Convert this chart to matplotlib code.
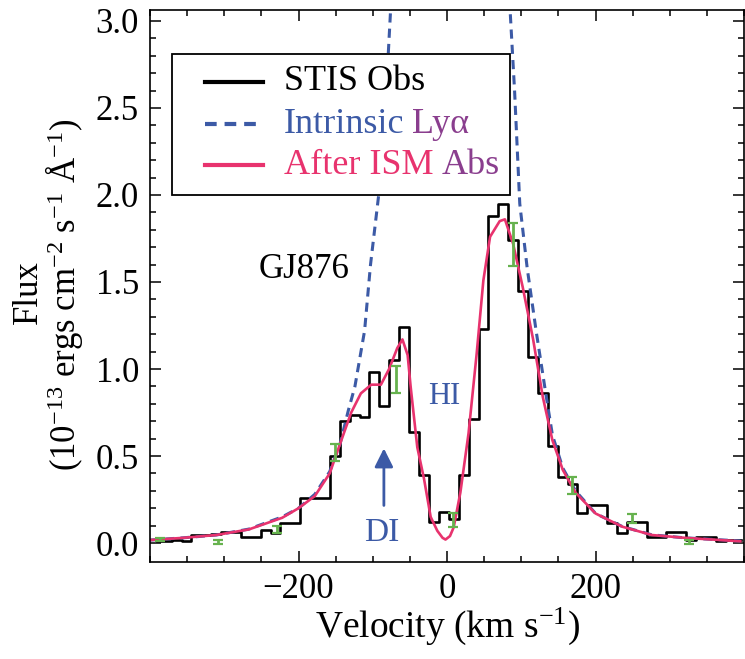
import matplotlib
matplotlib.use('Agg')
import matplotlib.pyplot as plt
from matplotlib.patches import Rectangle

# datos
vel_bins = [-391, -378, -364, -351, -338, -324, -311, -298, -284, -271, -258, -244,
            -231, -218, -204, -191, -178, -164, -151, -138, -124, -111, -98, -84,
            -71, -58, -44, -31, -18, -4, 9, 22, 36, 49, 62, 76, 89, 102, 116, 129,
            142, 156, 169, 182, 196, 209, 222, 236, 249, 262, 276, 289, 302, 316,
            329, 342, 356, 369, 382, 396]
flux_obs = [0.01, 0.01, 0.02, 0.01, 0.045, 0.045, 0.05, 0.065, 0.065, 0.035, 0.035, 0.075,
            0.06, 0.115, 0.115, 0.26, 0.26, 0.26, 0.50, 0.70, 0.735, 0.725, 0.98, 0.79,
            1.05, 1.24, 0.64, 0.39, 0.12, 0.18, 0.14, 0.39, 0.71, 1.23, 1.88, 1.95, 1.74, 1.45, 1.07, 0.86,
            0.56, 0.38, 0.34, 0.17, 0.22, 0.22, 0.115, 0.06, 0.12, 0.12, 0.036, 0.036, 0.065, 0.065,
            0.02, 0.036, 0.036, 0.01, 0.02, 0.02]

vel_intr = [-400, -355, -311, -267, -222, -200, -178, -158, -144, -133, -124, -111, -103,
            -92, -83, -76, -60, 3, 70, 85, 91, 98, 108, 120, 133, 142, 156, 173, 200,
            236, 276, 320, 395]
flux_intr = [0.017, 0.03, 0.046, 0.08, 0.15, 0.20, 0.28, 0.41, 0.57, 0.76, 0.90, 1.22, 1.60,
             2.0, 2.5, 3.06, 4.5, 8.0, 4.5, 3.06, 2.6, 1.95, 1.58, 1.22, 0.86, 0.62, 0.43, 0.30, 0.17,
             0.095, 0.047, 0.03, 0.012]

vel_ism = [-400, -355, -311, -267, -222, -200, -178, -158, -144, -129, -116, -102, -89, -78,
           -67, -60, -53, -49, -40, -31, -22, -13, -6, -2, 4, 9, 18, 29, 40, 49, 58, 71,
           78, 89, 102, 116, 129, 142, 156, 173, 200, 236, 276, 320, 395]
flux_ism = [0.017, 0.03, 0.046, 0.078, 0.145, 0.20, 0.27, 0.40, 0.57, 0.75, 0.86, 0.91, 0.91, 1.0,
            1.12, 1.17, 1.08, 0.90, 0.55, 0.37, 0.15, 0.07, 0.03, 0.02, 0.04, 0.09, 0.29, 0.63, 1.09, 1.51, 1.76, 1.85,
            1.86, 1.72, 1.47, 1.17, 0.84, 0.59, 0.42, 0.29, 0.17, 0.094, 0.046, 0.03, 0.01]

vel_err = [-387, -309, -229, -151, -69, 8, 89, 168, 249, 326]
flux_err = [0.02, 0.005, 0.075, 0.52, 0.94, 0.13, 1.715, 0.33, 0.14, 0.005]
size_err = [0.01, 0.01, 0.02, 0.05, 0.08, 0.04, 0.125, 0.05, 0.025, 0.01]

azul = '#3c5aa6'
morado = '#8a3e8e'
rosa = '#e8336e'

plt.rcParams['font.family'] = ['Liberation Serif', 'DejaVu Serif']
plt.rcParams['mathtext.fontset'] = 'custom'
plt.rcParams['mathtext.rm'] = 'Liberation Serif'
plt.rcParams['mathtext.it'] = 'Liberation Serif:italic'

fig = plt.figure(figsize=(7.45, 6.59), dpi=100)
ax = fig.add_axes([150/745, 97/659, 594/745, 552/659])

ax.step(vel_bins, flux_obs, where='mid', color='black', lw=1.9)
ax.plot(vel_intr, flux_intr, color=azul, lw=2.2, ls=(0, (3, 2)))
ax.plot(vel_ism, flux_ism, color=rosa, lw=1.9)
ax.errorbar(vel_err, flux_err, yerr=size_err, fmt='none', ecolor='#66b24e',
            elinewidth=2, capsize=3.5, capthick=1.6, zorder=4)

ax.set_xlim(-400, 394)
ax.set_ylim(-0.109, 3.063)
ax.set_xticks([-200, 0, 200])
ax.set_xticks(range(-400, 401, 50), minor=True)
ax.set_yticks([0, 0.5, 1.0, 1.5, 2.0, 2.5, 3.0])
ax.set_yticks([i / 10 for i in range(0, 31)], minor=True)
ax.set_yticklabels(['0.0', '0.5', '1.0', '1.5', '2.0', '2.5', '3.0'])
ax.tick_params(which='both', direction='in', top=True, right=True, labelsize=25, width=1.1)
ax.tick_params(which='major', length=8, pad=8)
ax.tick_params(which='minor', length=4.5)
for s in ax.spines.values():
    s.set_linewidth(1.2)

ax.set_xlabel('Velocity (km s$^{-1}$)', fontsize=27, labelpad=0)
fig.text(28/745, 1 - 292/659, 'Flux', rotation=90, ha='center', va='center', fontsize=25)
fig.text(64/745, 1 - 295/659, '(10$^{-13}$ ergs cm$^{-2}$ s$^{-1}$ $\\mathrm{\\AA}^{-1}$)',
         rotation=90, ha='center', va='center', fontsize=25)

# textos dentro de la grafica
ax.text(-193, 1.57, 'GJ876', ha='center', va='center', fontsize=25)
ax.text(-4, 0.84, 'HI', ha='center', va='center', fontsize=22, color=azul)
ax.text(-88, 0.06, 'DI', ha='center', va='center', fontsize=24, color=azul)
ax.annotate('', xy=(-85, 0.56), xytext=(-85, 0.20),
            arrowprops=dict(arrowstyle='-|>', color=azul, lw=2, mutation_scale=28))

# leyenda hecha a mano (texto de dos colores)
ax.add_patch(Rectangle((0.037, 0.665), 0.569, 0.255, transform=ax.transAxes,
                       facecolor='white', edgecolor='black', lw=1.3, zorder=5))
filas = [0.870, 0.793, 0.719]
ax.plot([0.093, 0.19], [filas[0]] * 2, transform=ax.transAxes, color='black', lw=3, zorder=6)
ax.plot([0.093, 0.19], [filas[1]] * 2, transform=ax.transAxes, color=azul, lw=3,
        ls=(0, (2.8, 1.9)), zorder=6)
ax.plot([0.093, 0.19], [filas[2]] * 2, transform=ax.transAxes, color=rosa, lw=3, zorder=6)
ax.text(0.225, filas[0], 'STIS Obs', transform=ax.transAxes, va='center', fontsize=26, zorder=6)
t1 = ax.text(0.225, filas[1], 'Intrinsic', transform=ax.transAxes, va='center',
             fontsize=26, color=azul, zorder=6)
t2 = ax.text(0.225, filas[2], 'After ISM', transform=ax.transAxes, va='center',
             fontsize=26, color=rosa, zorder=6)
ax.annotate('Lyα', xy=(1, 0), xycoords=t1, xytext=(6, 0), textcoords='offset points',
            ha='left', va='bottom', fontsize=26, color=morado, zorder=6)
ax.annotate('Abs', xy=(1, 0), xycoords=t2, xytext=(6, 0), textcoords='offset points',
            ha='left', va='bottom', fontsize=26, color=morado, zorder=6)

plt.savefig('out.png', dpi=100)
plt.close()
